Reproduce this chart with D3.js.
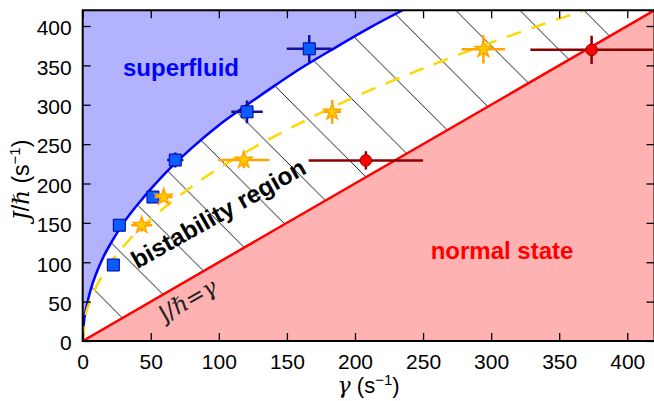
<!DOCTYPE html>
<html>
<head>
<meta charset="utf-8">
<script src="https://cdn.jsdelivr.net/npm/d3@7"></script>
<style>
  html, body { margin: 0; padding: 0; background: #fff; }
  svg { display: block; }
</style>
</head>
<body>
<svg id="chart" width="654" height="401"></svg>
<script>
// superfluid boundary (solid blue)
var curveGamma = [0, 1, 3, 6, 10, 15, 22, 30, 45, 60, 80, 100, 120, 140, 160, 185, 210, 235];
var curveJ = [0, 26, 45, 66, 86, 106, 128, 150, 183, 212, 245, 274, 299, 323, 346, 372, 397, 420];

// dashed yellow line
var dashGamma = [0, 2, 5, 10, 20, 35, 55, 80, 110, 150, 200, 250, 300, 367];
var dashJ = [0, 31, 49, 69, 98, 130, 162, 196, 230, 268, 310, 346, 379, 419];

// J/hbar = gamma
var diagGamma = [0, 420];
var diagJ = [0, 420];

// blue squares
var blueGamma = [22.5, 26.9, 51.6, 68.0, 120.7, 166.4];
var blueJ = [96.5, 147.0, 182.8, 229.8, 291.0, 371.0];
var blueGammaErr = [2, 2, 3, 6, 11.6, 16.5];
var blueJErr = [3, 4, 5, 9.5, 14.5, 17.5];

// orange stars
var starGamma = [43.3, 59.5, 118.3, 183.3, 294.3];
var starJ = [147.0, 182.8, 229.8, 291.0, 370.4];
var starGammaErr = [7.7, 6.6, 18.7, 6.4, 16];
var starJErr = [8, 6, 10.5, 15, 18];

// red circles
var redGamma = [208, 373.8];
var redJ = [229.3, 369.7];
var redGammaErr = [42, 45];
var redJErr = [11.5, 18];

var xTicks = [0, 50, 100, 150, 200, 250, 300, 350, 400];
var yTicks = [0, 50, 100, 150, 200, 250, 300, 350, 400];

var x = d3.scaleLinear().domain([0, 420]).range([82.7, 654.5]);
var y = d3.scaleLinear().domain([0, 420]).range([341, 10.25]);

var svg = d3.select('#chart');
var defs = svg.append('defs');

defs.append('clipPath').attr('id', 'plotClip').append('rect')
  .attr('x', x(0)).attr('y', y(420))
  .attr('width', x(420) - x(0)).attr('height', y(0) - y(420));

// 45 degree hatch, in page pixels
var P = 64.1;
defs.append('pattern')
  .attr('id', 'hatch')
  .attr('patternUnits', 'userSpaceOnUse')
  .attr('x', 0).attr('y', 3.3)
  .attr('width', P).attr('height', P)
  .append('path')
  .attr('d', 'M0,0L' + P + ',' + P + 'M' + (P - 2) + ',-2L' + (P + 2) + ',2M-2,' + (P - 2) + 'L2,' + (P + 2))
  .attr('fill', 'none').attr('stroke', '#000').attr('stroke-width', 0.9);

function zip(a, b) {
  return a.map(function(v, i) { return [v, b[i]]; });
}

var curvePts = zip(curveGamma, curveJ);
var dashPts = zip(dashGamma, dashJ);
var diagPts = zip(diagGamma, diagJ);

var plot = svg.append('g').attr('clip-path', 'url(#plotClip)');

var line = d3.line()
  .x(function(d) { return x(d[0]); })
  .y(function(d) { return y(d[1]); })
  .curve(d3.curveMonotoneX);

// superfluid fill
plot.append('path')
  .attr('d', d3.area()
    .x(function(d) { return x(d[0]); })
    .y0(y(420))
    .y1(function(d) { return y(d[1]); })
    .curve(d3.curveMonotoneX)(curvePts))
  .attr('fill', '#b2b2ff');

// normal state fill
plot.append('path')
  .attr('d', d3.area()
    .x(function(d) { return x(d[0]); })
    .y0(y(0))
    .y1(function(d) { return y(d[1]); })(diagPts))
  .attr('fill', '#ffb2b2');

// bistability region hatch
plot.append('path')
  .attr('d', line(curvePts) + 'L' + x(420) + ',' + y(420) + 'L' + x(diagGamma[1]) + ',' + y(diagJ[1]) + 'L' + x(diagGamma[0]) + ',' + y(diagJ[0]) + 'Z')
  .attr('fill', 'url(#hatch)');

plot.append('path').attr('d', d3.line()
    .x(function(d) { return x(d[0]); })
    .y(function(d) { return y(d[1]); })(diagPts))
  .attr('fill', 'none').attr('stroke', '#ff0000').attr('stroke-width', 2.5);

plot.append('path').attr('d', line(curvePts))
  .attr('fill', 'none').attr('stroke', '#0000ff').attr('stroke-width', 2.5);

plot.append('path').attr('d', line(dashPts))
  .attr('fill', 'none').attr('stroke', '#ffd700').attr('stroke-width', 2.5)
  .attr('stroke-dasharray', '15,11');

function errorBars(g, xs, ys, exs, eys, color) {
  var pts = xs.map(function(v, i) { return { g: v, j: ys[i], eg: exs[i], ej: eys[i] }; });
  g.selectAll(null).data(pts).enter().append('line')
    .attr('x1', function(d) { return x(d.g - d.eg); })
    .attr('x2', function(d) { return x(d.g + d.eg); })
    .attr('y1', function(d) { return y(d.j); })
    .attr('y2', function(d) { return y(d.j); })
    .attr('stroke', color).attr('stroke-width', 2.5);
  g.selectAll(null).data(pts).enter().append('line')
    .attr('x1', function(d) { return x(d.g); })
    .attr('x2', function(d) { return x(d.g); })
    .attr('y1', function(d) { return y(d.j - d.ej); })
    .attr('y2', function(d) { return y(d.j + d.ej); })
    .attr('stroke', color).attr('stroke-width', 2.5);
  return pts;
}

function markers(g, pts, type, size, fill, stroke, sw) {
  g.selectAll(null).data(pts).enter().append('path')
    .attr('transform', function(d) { return 'translate(' + x(d.g) + ',' + y(d.j) + ')'; })
    .attr('d', d3.symbol().type(type).size(size))
    .attr('fill', fill).attr('stroke', stroke).attr('stroke-width', sw);
}

var bluePts = errorBars(plot, blueGamma, blueJ, blueGammaErr, blueJErr, '#12129a');
markers(plot, bluePts, d3.symbolSquare, 144, '#0a5cff', '#0000a0', 1);

var starPts = errorBars(plot, starGamma, starJ, starGammaErr, starJErr, '#ffa500');
markers(plot, starPts, d3.symbolStar, 85, '#ffcc00', '#ffa500', 1.5);

var redPts = errorBars(plot, redGamma, redJ, redGammaErr, redJErr, '#8b0000');
markers(plot, redPts, d3.symbolCircle, Math.PI * 5.8 * 5.8, '#ff0000', '#990000', 1);

// region labels
svg.append('text').attr('x', 181).attr('y', 76)
  .attr('text-anchor', 'middle')
  .attr('font-family', 'Liberation Sans, Arial, sans-serif')
  .attr('font-weight', 'bold').attr('font-size', 24)
  .attr('fill', '#0000ff').text('superfluid');

svg.append('text').attr('x', 502).attr('y', 259)
  .attr('text-anchor', 'middle')
  .attr('font-family', 'Liberation Sans, Arial, sans-serif')
  .attr('font-weight', 'bold').attr('font-size', 24)
  .attr('fill', '#ff0000').text('normal state');

svg.append('text')
  .attr('transform', 'translate(222.5,221) rotate(-29.5)')
  .attr('text-anchor', 'middle')
  .attr('font-family', 'Liberation Sans, Arial, sans-serif')
  .attr('font-weight', 'bold').attr('font-size', 24.5)
  .attr('fill', '#000').text('bistability region');

var eq = svg.append('text')
  .attr('transform', 'translate(192,307) rotate(-30)')
  .attr('text-anchor', 'middle')
  .attr('font-family', 'DejaVu Sans, sans-serif')
  .attr('font-size', 23)
  .attr('fill', '#222');
eq.append('tspan').text('J/');
eq.append('tspan').attr('font-family', 'DejaVu Serif').attr('font-style', 'italic').text('ℏ');
eq.append('tspan').text('=');
eq.append('tspan').attr('font-family', 'DejaVu Serif').attr('font-style', 'italic').text('γ');

// axes, ticks pointing inward on all sides
var tickFont = 'Liberation Sans, Arial, sans-serif';

var gx = svg.append('g').attr('transform', 'translate(0,' + y(0) + ')')
  .call(d3.axisBottom(x).tickValues(xTicks).tickSizeInner(-8).tickSizeOuter(0).tickPadding(13));
var gy = svg.append('g').attr('transform', 'translate(' + x(0) + ',0)')
  .call(d3.axisLeft(y).tickValues(yTicks).tickSizeInner(-8).tickSizeOuter(0).tickPadding(11));
var gt = svg.append('g').attr('transform', 'translate(0,' + y(420) + ')')
  .call(d3.axisTop(x).tickValues(xTicks).tickSizeInner(-8).tickSizeOuter(0).tickFormat(''));
var gr = svg.append('g').attr('transform', 'translate(' + x(420) + ',0)')
  .call(d3.axisRight(y).tickValues(yTicks).tickSizeInner(-8).tickSizeOuter(0).tickFormat(''));

[gx, gy, gt, gr].forEach(function(g) {
  g.select('.domain').remove();
  g.selectAll('.tick line').attr('stroke', '#000').attr('stroke-width', 1.3);
  g.selectAll('.tick text').attr('fill', '#000')
    .attr('font-family', tickFont).attr('font-size', 21);
});
gy.selectAll('.tick text').attr('dy', '0.42em');

svg.append('rect')
  .attr('x', x(0)).attr('y', y(420))
  .attr('width', x(420) - x(0)).attr('height', y(0) - y(420))
  .attr('fill', 'none').attr('stroke', '#000').attr('stroke-width', 2);

// axis titles
var xl = svg.append('text').attr('x', (x(0) + x(420)) / 2).attr('y', 393)
  .attr('text-anchor', 'middle')
  .attr('font-family', tickFont).attr('font-size', 22).attr('fill', '#000');
xl.append('tspan').attr('font-family', 'DejaVu Serif').attr('font-style', 'italic').text('γ');
xl.append('tspan').text(' (s');
xl.append('tspan').attr('font-size', 15).attr('dy', -8).text('−1');
xl.append('tspan').attr('dy', 8).text(')');

var yl = svg.append('text').attr('transform', 'translate(29,180) rotate(-90)')
  .attr('text-anchor', 'middle')
  .attr('font-family', tickFont).attr('font-size', 23).attr('fill', '#000');
yl.append('tspan').attr('font-family', 'DejaVu Serif').attr('font-style', 'italic').text('J');
yl.append('tspan').text('/');
yl.append('tspan').attr('font-family', 'DejaVu Serif').attr('font-style', 'italic').text('ℏ');
yl.append('tspan').text(' (s');
yl.append('tspan').attr('font-size', 15).attr('dy', -9).text('−1');
yl.append('tspan').attr('dy', 9).text(')');
</script>
</body>
</html>
